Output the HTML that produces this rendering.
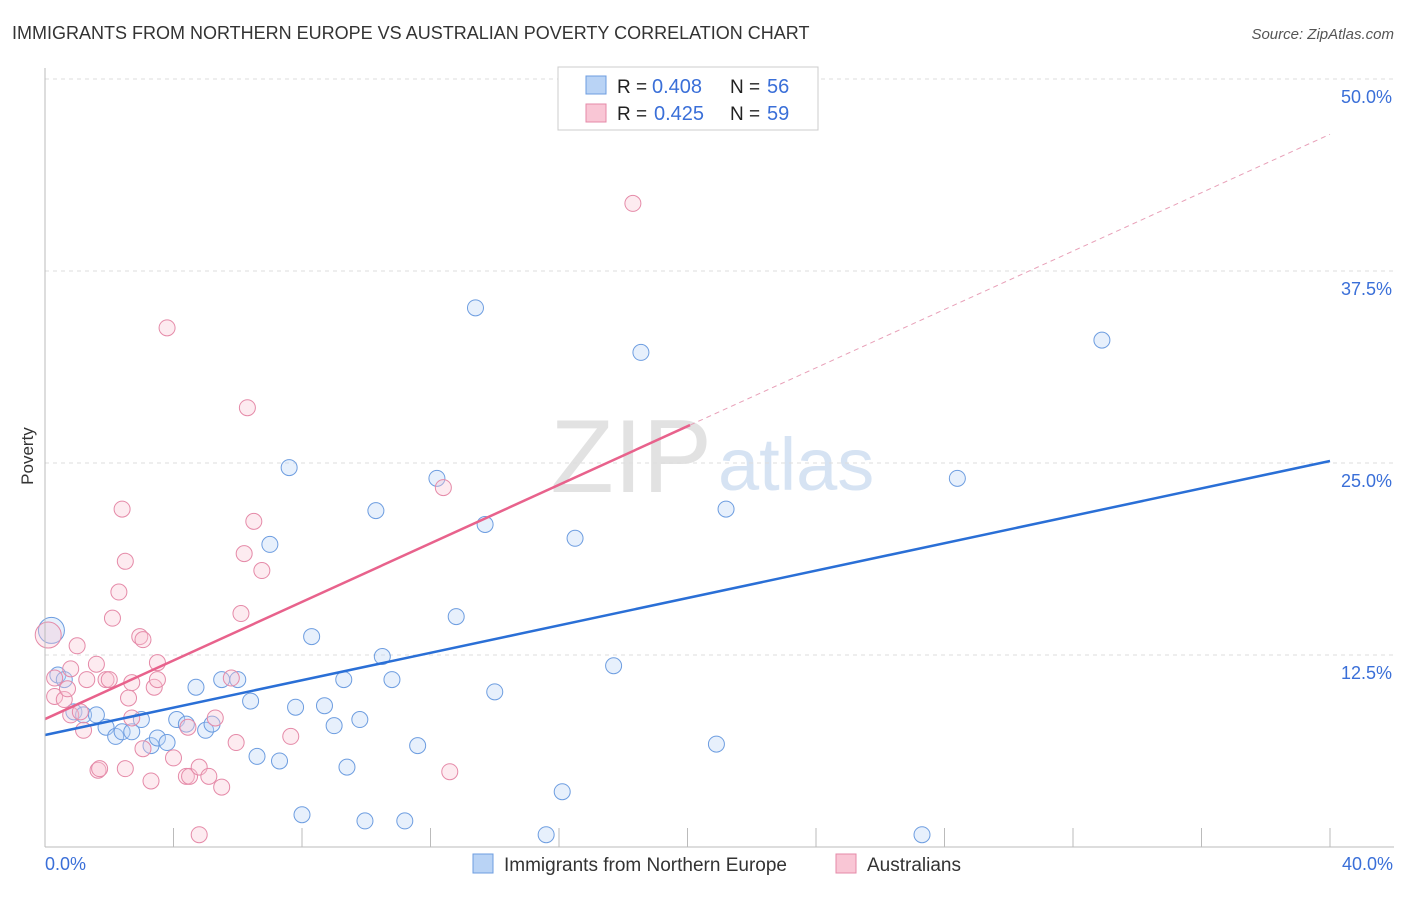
<!DOCTYPE html>
<html><head><meta charset="utf-8"><style>
body{margin:0;background:#fff;font-family:"Liberation Sans",sans-serif;}
svg text{font-family:"Liberation Sans",sans-serif;}
</style></head><body>
<svg id="chart" width="1406" height="892">
<text x="12" y="39" font-size="18" fill="#333">IMMIGRANTS FROM NORTHERN EUROPE VS AUSTRALIAN POVERTY CORRELATION CHART</text>
<text x="1394" y="39" font-size="15" fill="#555" font-style="italic" text-anchor="end">Source: ZipAtlas.com</text>
<text x="33" y="456" font-size="17" fill="#333" text-anchor="middle" transform="rotate(-90 33 456)">Poverty</text>
<text x="712" y="492" font-size="104" fill="#e2e2e2" font-family="Liberation Serif" text-anchor="end">ZIP</text>
<text x="718" y="490" font-size="74" fill="#d6e3f3">atlas</text>
<g id="grid"></g><g id="pts"></g><g id="lines"></g>
<line x1="45" y1="68" x2="45" y2="847" stroke="#bbb"/>
<line x1="45" y1="847" x2="1394" y2="847" stroke="#bbb"/>
<text x="45" y="870" font-size="18" fill="#3a6fd8">0.0%</text>
<text x="1393" y="870" font-size="18" fill="#3a6fd8" text-anchor="end">40.0%</text>
<g>
<rect x="558" y="67" width="260" height="63" fill="#fff" stroke="#ccc"/>
<rect x="586" y="76" width="20" height="18" fill="#b9d3f5" stroke="#6d9de0"/>
<rect x="586" y="104" width="20" height="18" fill="#f9c6d5" stroke="#e58aa8"/>
<text x="617" y="93" font-size="19" fill="#222">R =</text>
<text x="652" y="93" font-size="20" fill="#3a6fd8">0.408</text>
<text x="730" y="93" font-size="19" fill="#222">N =</text>
<text x="767" y="93" font-size="20" fill="#3a6fd8">56</text>
<text x="617" y="120" font-size="19" fill="#222">R =</text>
<text x="654" y="120" font-size="20" fill="#3a6fd8">0.425</text>
<text x="730" y="120" font-size="19" fill="#222">N =</text>
<text x="767" y="120" font-size="20" fill="#3a6fd8">59</text>
</g>
<g>
<rect x="473" y="854" width="20" height="19" fill="#b9d3f5" stroke="#6d9de0"/>
<text x="504" y="871" font-size="19" fill="#333">Immigrants from Northern Europe</text>
<rect x="836" y="854" width="20" height="19" fill="#f9c6d5" stroke="#e58aa8"/>
<text x="867" y="871" font-size="19" fill="#333">Australians</text>
</g>
</svg>
<script>
const yTicks=[12.5,25,37.5,50];
const xTicks=[0,4,8,12,16,20,24,28,32,36,40];
const blueX=[0.2,0.4,0.6,0.9,1.2,1.6,1.9,2.2,2.4,2.7,3.0,3.3,3.5,3.8,4.1,4.4,4.7,5.0,5.2,5.5,6.0,6.4,6.6,7.3,7.6,7.0,7.8,8.0,8.3,8.7,9.0,9.3,9.4,9.8,9.96,10.3,10.5,10.8,11.2,11.6,12.2,12.8,13.4,13.7,14.0,15.6,16.1,16.5,17.7,18.55,20.9,21.2,27.3,28.4,32.9];
const blueY=[14.1,11.2,10.9,8.8,8.6,8.6,7.8,7.2,7.5,7.5,8.3,6.6,7.1,6.8,8.3,8.0,10.4,7.6,8.0,10.9,10.9,9.5,5.9,5.6,24.7,19.7,9.1,2.1,13.7,9.2,7.9,10.9,5.2,8.3,1.7,21.9,12.4,10.9,1.7,6.6,24.0,15.0,35.1,21.0,10.1,0.8,3.6,20.1,11.8,32.2,6.7,22.0,0.8,24.0,33.0];
const pinkX=[0.1,0.3,0.3,0.6,0.7,0.8,1.0,0.8,1.1,1.2,1.3,1.6,1.65,1.7,1.9,2.0,2.1,2.3,2.4,2.5,2.5,2.6,2.7,2.7,2.95,3.05,3.05,3.3,3.4,3.5,3.5,3.8,4.0,4.4,4.5,4.45,4.8,4.8,5.1,5.3,5.5,5.8,5.95,6.1,6.2,6.3,6.5,6.75,7.65,12.4,12.6,18.3];
const pinkY=[13.8,11.0,9.8,9.6,10.3,11.6,13.1,8.6,8.8,7.6,10.9,11.9,5.0,5.1,10.9,10.9,14.9,16.6,22.0,5.1,18.6,9.7,8.4,10.7,13.7,13.5,6.4,4.3,10.4,12.0,10.9,33.8,5.8,4.6,4.6,7.8,5.2,0.8,4.6,8.4,3.9,11.0,6.8,15.2,19.1,28.6,21.2,18.0,7.2,23.4,4.9,41.9];
const xs=v=>45+v*32.125, ys=v=>847-v*15.36;
const NS='http://www.w3.org/2000/svg';
function mk(t,a,p){const e=document.createElementNS(NS,t);for(const k in a)e.setAttribute(k,a[k]);p.appendChild(e);return e;}
const grid=document.getElementById('grid');
yTicks.forEach(t=>{
 const l=mk('line',{x1:45,x2:1394,y1:ys(t),y2:ys(t),stroke:'#ddd','stroke-dasharray':'4,4'},grid);
 
 
 const tx=mk('text',{x:1392,y:ys(t)+24,'font-size':18,fill:'#3a6fd8','text-anchor':'end'},grid);
 tx.textContent=t.toFixed(1)+'%';
 
 
});
xTicks.forEach(t=>{
 const l=mk('line',{x1:xs(t),x2:xs(t),y1:828,y2:847,stroke:'#bbb'},grid);
 
 
});
const pts=document.getElementById('pts');
function dot(x,y,c,s,big,name){
 const e=mk('circle',{cx:xs(x),cy:ys(y),r:big?13:8,fill:c,'fill-opacity':0.35,stroke:s,'stroke-width':1},pts);
 
 
}
blueX.forEach((x,i)=>dot(x,blueY[i],'#b9d3f5','#6d9de0',i==0,'blue-point'));
pinkX.forEach((x,i)=>dot(x,pinkY[i],'#f9c6d5','#e58aa8',i==0,'pink-point'));
const lines=document.getElementById('lines');
const bl=mk('line',{x1:xs(0),y1:ys(7.29),x2:xs(40),y2:ys(25.13),stroke:'#2a6fd6','stroke-width':2.5},lines);


const pl=mk('line',{x1:xs(0),y1:ys(8.33),x2:xs(20.08),y2:ys(27.47),stroke:'#e8628c','stroke-width':2.5},lines);


const pd=mk('line',{x1:xs(20.08),y1:ys(27.47),x2:xs(40),y2:ys(46.4),stroke:'#e8a0b8','stroke-width':1,'stroke-dasharray':'5,4'},lines);


</script>
</body></html>
